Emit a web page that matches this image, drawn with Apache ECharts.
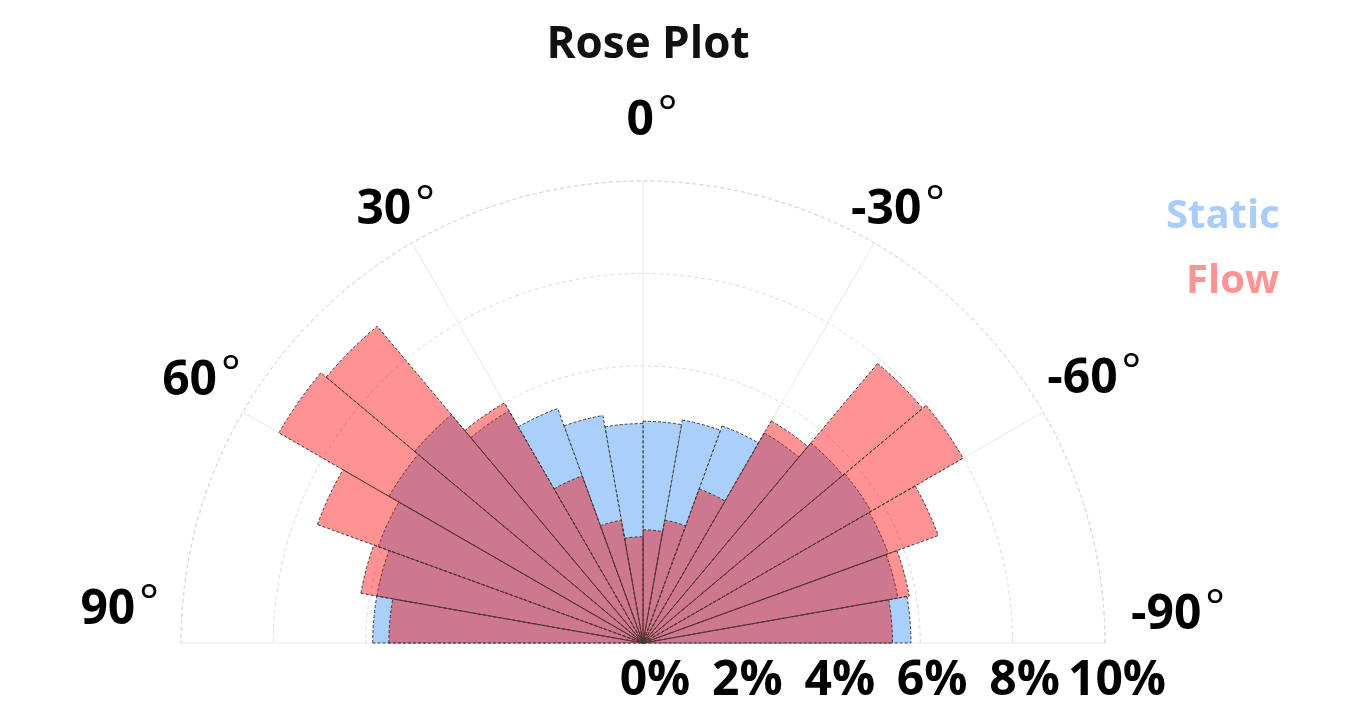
<!DOCTYPE html>
<html>
<head>
<meta charset="utf-8">
<title>Rose Plot</title>
<script src="https://cdn.jsdelivr.net/npm/echarts@6/dist/echarts.min.js"></script>
<style>
  html, body { margin: 0; padding: 0; background: #fff; }
  #main { width: 1347px; height: 705px; }
</style>
</head>
<body>
<div id="main"></div>
<script>
// sectors of 10 degrees, listed from the right side (-90) round to the left (90)
const sectors = ['-90~-80', '-80~-70', '-70~-60', '-60~-50', '-50~-40', '-40~-30', '-30~-20', '-20~-10', '-10~0',
  '0~10', '10~20', '20~30', '30~40', '40~50', '50~60', '60~70', '70~80', '80~90']
// share of samples in each sector, %
const staticValues = [5.8, 5.6, 5.65, 5.7, 5.65, 5.25, 5.0, 4.9, 4.8,
  4.75, 5.0, 5.4, 5.8, 6.45, 6.35, 6.1, 5.85, 5.85]
const flowValues = [5.4, 5.85, 6.8, 8.0, 7.9, 5.55, 3.55, 2.7, 2.45,
  2.3, 2.7, 3.85, 6.0, 8.95, 9.1, 7.5, 6.2, 5.5]
const radiusTicks = [0, 2, 4, 6, 8, 10]
const angleTicks = [-90, -60, -30, 0, 30, 60, 90]

const font = '"Open Sans", sans-serif'
const center = [643, 643]
const radius = 462

// extra room round each angle label [top, right, bottom, left], same order as angleTicks
const labelPad = [
  [0, 0, 56, 72],
  [0, 0, 27, 44],
  [0, 0, 43, 0],
  [0, 0, 77, 18],
  [0, 0, 43, 0],
  [0, 42, 25, 0],
  [0, 68, 66, 0]
]

var myChart = echarts.init(document.getElementById('main'))

const angleRich = {}
angleTicks.forEach(function (t, i) {
  const p = labelPad[i]
  angleRich['n' + i] = {
    fontFamily: font, fontSize: 48, fontWeight: 'bold', color: '#000',
    padding: [p[0], 0, p[2], p[3]]
  }
  angleRich['d' + i] = {
    fontFamily: font, fontSize: 46, fontWeight: 'normal', color: '#000',
    padding: [p[0], p[1], p[2] + 12, 4]
  }
})

const edge = {
  borderColor: '#3b3b3b',
  borderWidth: 1,
  borderType: [3, 2]
}

const options = {
  backgroundColor: '#fff',
  title: {
    text: 'Rose Plot',
    left: 643,
    textAlign: 'center',
    top: 18,
    textStyle: { fontFamily: font, fontSize: 44, fontWeight: 'bold', color: '#111' }
  },
  legend: [
    {
      left: 1156, top: 192, icon: 'none', itemWidth: 0, itemGap: 0, selectedMode: false,
      textStyle: { fontFamily: font, fontSize: 40, fontWeight: 'bold' },
      data: [{ name: 'Static', textStyle: { color: '#a9cdf8' } }]
    },
    {
      left: 1176, top: 257, icon: 'none', itemWidth: 0, itemGap: 0, selectedMode: false,
      textStyle: { fontFamily: font, fontSize: 40, fontWeight: 'bold' },
      data: [{ name: 'Flow', textStyle: { color: '#ff9494' } }]
    }
  ],
  polar: [
    { center: center, radius: radius },
    { center: center, radius: radius }
  ],
  angleAxis: [
    {
      // grid and degree labels
      polarIndex: 0,
      type: 'value',
      min: angleTicks[0],
      max: angleTicks[angleTicks.length - 1],
      interval: 30,
      startAngle: 0,
      endAngle: 180,
      clockwise: false,
      axisLine: { show: true, lineStyle: { color: '#d9d9d9', type: [4, 3] } },
      axisTick: { show: false },
      splitLine: { show: true, lineStyle: { color: '#e8e8e8', width: 1 } },
      axisLabel: {
        margin: -46,
        formatter: function (v) {
          const i = angleTicks.indexOf(v)
          return '{n' + i + '|' + v + '}{d' + i + '|°}'
        },
        rich: angleRich
      }
    },
    {
      // sectors for the bars
      polarIndex: 1,
      type: 'category',
      data: sectors,
      startAngle: 0,
      endAngle: 180,
      clockwise: false,
      boundaryGap: true,
      axisLine: { show: false },
      axisTick: { show: false },
      axisLabel: { show: false },
      splitLine: { show: false }
    }
  ],
  radiusAxis: [
    {
      polarIndex: 0,
      type: 'value',
      min: radiusTicks[0],
      max: radiusTicks[radiusTicks.length - 1],
      interval: 2,
      axisLine: { show: false },
      axisTick: { show: false },
      splitLine: { show: true, lineStyle: { color: '#dcdcdc', type: [4, 3] } },
      axisLabel: {
        margin: -62,
        formatter: '{value}%',
        fontFamily: font,
        fontSize: 48,
        fontWeight: 'bold',
        color: '#000',
        padding: [0, 0, 0, 24]
      }
    },
    {
      polarIndex: 1,
      type: 'value',
      min: radiusTicks[0],
      max: radiusTicks[radiusTicks.length - 1],
      show: false
    }
  ],
  series: [
    {
      name: 'Static',
      type: 'bar',
      coordinateSystem: 'polar',
      polarIndex: 1,
      data: staticValues,
      barGap: '-100%',
      barCategoryGap: '0%',
      itemStyle: Object.assign({ color: 'rgba(160,202,250,0.9)' }, edge),
      z: 2
    },
    {
      name: 'Flow',
      type: 'bar',
      coordinateSystem: 'polar',
      polarIndex: 1,
      data: flowValues,
      barGap: '-100%',
      barCategoryGap: '0%',
      itemStyle: Object.assign({ color: 'rgba(255,5,5,0.43)' }, edge),
      z: 3
    }
  ]
}

myChart.setOption(options)
</script>
</body>
</html>
